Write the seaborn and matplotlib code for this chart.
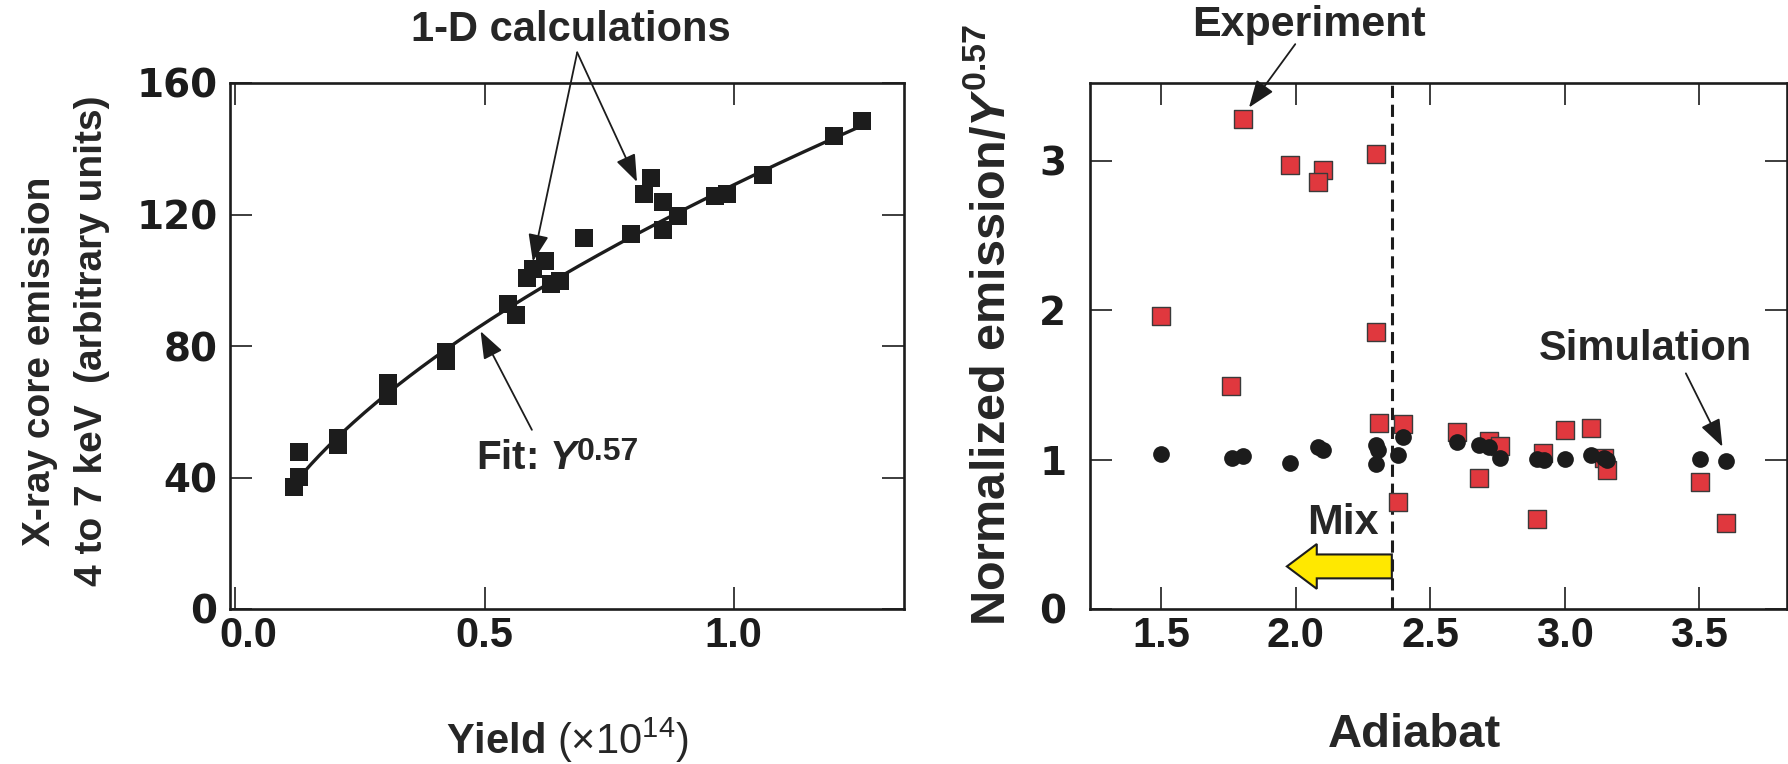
import numpy as np
import pandas as pd
import matplotlib
matplotlib.use("Agg")
import matplotlib.pyplot as plt
from matplotlib.patches import FancyArrow
from matplotlib.transforms import ScaledTranslation
import seaborn as sns

# ---------------- data ----------------
yield_1d = [0.117, 0.128, 0.128, 0.206, 0.206, 0.306, 0.306, 0.422, 0.422,
            0.548, 0.563, 0.585, 0.597, 0.622, 0.634, 0.652, 0.699, 0.793,
            0.821, 0.835, 0.859, 0.859, 0.888, 0.962, 0.986, 1.058, 1.202, 1.258]
emission_1d = [37.1, 40.3, 47.8, 50.0, 52.0, 68.6, 64.7, 78.1, 75.3,
               92.8, 89.4, 100.6, 103.4, 105.9, 98.9, 99.7, 113.0, 114.1,
               126.3, 131.0, 123.7, 115.2, 119.4, 125.6, 126.3, 132.1, 143.9, 148.4]
fit_coef = 129.0
fit_exp = 0.57
fit_range = (0.135, 1.26)

exp_adiabat = [1.804, 1.978, 2.100, 2.083, 2.300, 1.500, 2.300, 1.759, 2.311,
               2.400, 2.598, 2.719, 2.759, 2.920, 3.000, 3.096, 3.144, 3.158,
               2.681, 2.380, 2.895, 3.502, 3.598]
exp_norm = [3.277, 2.970, 2.936, 2.858, 3.042, 1.962, 1.854, 1.491, 1.245,
            1.238, 1.184, 1.123, 1.091, 1.042, 1.201, 1.213, 1.012, 0.931,
            0.877, 0.718, 0.600, 0.848, 0.575]
sim_adiabat = [1.500, 1.762, 1.802, 1.978, 2.083, 2.103, 2.297, 2.307, 2.300,
               2.380, 2.400, 2.601, 2.681, 2.719, 2.759, 2.895, 2.922, 3.000,
               3.098, 3.144, 3.158, 3.502, 3.598]
sim_norm = [1.037, 1.012, 1.025, 0.975, 1.081, 1.066, 1.098, 1.066, 0.968,
            1.029, 1.152, 1.115, 1.098, 1.086, 1.012, 1.005, 0.995, 1.007,
            1.029, 1.012, 0.995, 1.007, 0.988]
mix_adiabat = 2.357

left_xticks = [0.0, 0.5, 1.0]
left_yticks = [0, 40, 80, 120, 160]
right_xticks = [1.5, 2.0, 2.5, 3.0, 3.5]
right_yticks = [0, 1, 2, 3]

# ---------------- style ----------------
sns.set_style("ticks")
plt.rcParams["font.family"] = ["Liberation Sans", "DejaVu Sans"]
plt.rcParams["font.weight"] = "bold"
plt.rcParams["mathtext.fontset"] = "custom"
plt.rcParams["mathtext.rm"] = "Liberation Sans:weight=normal"
plt.rcParams["mathtext.bf"] = "Liberation Sans:bold"
plt.rcParams["mathtext.it"] = "Liberation Sans:italic:bold"
plt.rcParams["mathtext.sf"] = "Liberation Sans:weight=normal"

W, H = 1788, 764
fig = plt.figure(figsize=(W / 100, H / 100), dpi=100)
ax1 = fig.add_axes([230 / W, (H - 609) / H, 674 / W, 526 / H])
ax2 = fig.add_axes([1090 / W, (H - 609) / H, 697 / W, 526 / H])

INK = "#1c1c1c"
RED = "#e0383e"
TICK_X = 30
TICK_Y = 28

def style_axes(ax, ypad):
    for s in ax.spines.values():
        s.set_linewidth(1.9)
        s.set_color(INK)
        s.set_visible(True)
    ax.tick_params(direction="in", length=16, width=1.2, top=True, right=True,
                   colors=INK)
    ax.tick_params(axis="x", pad=5)
    ax.tick_params(axis="y", pad=ypad)

# ---------------- left panel ----------------
df1 = pd.DataFrame({"yield": yield_1d, "emission": emission_1d})
fx = np.linspace(fit_range[0], fit_range[1], 200)
dfit = pd.DataFrame({"x": fx, "y": fit_coef * fx ** fit_exp})
sns.lineplot(data=dfit, x="x", y="y", ax=ax1, color=INK, linewidth=2.4, zorder=2)
sns.scatterplot(data=df1, x="yield", y="emission", ax=ax1, marker="s", s=170,
                color=INK, linewidth=0, zorder=3)
ax1.set_xlim(-0.011, 1.342)
ax1.set_ylim(0, 160)
ax1.set_xticks(left_xticks)
ax1.set_xticklabels([f"{v:.1f}" for v in left_xticks], fontsize=TICK_X,
                    fontweight="bold")
ax1.set_yticks(left_yticks)
ax1.set_yticklabels([str(v) for v in left_yticks], family="DejaVu Sans",
                    fontsize=TICK_Y, fontweight="bold")
style_axes(ax1, 9)
# nudge the "0.0" label right so it clears the "0" of the y axis
first = ax1.xaxis.get_major_ticks()[0].label1
first.set_transform(first.get_transform()
                    + ScaledTranslation(9 / 72, 0, fig.dpi_scale_trans))

ax1.set_xlabel(r"Yield $\mathrm{(\times10^{14})}$", fontsize=30, fontweight="bold")
ax1.xaxis.label.set_va("baseline")
ax1.xaxis.set_label_coords(0.5, -0.276)
ax1.set_ylabel("")
ax1.text(-0.282, 0.47, "X-ray core emission", transform=ax1.transAxes,
         rotation=90, ha="center", va="center", fontsize=28, fontweight="bold")
ax1.text(-0.205, 0.51, "4 to 7 keV  (arbitrary units)", transform=ax1.transAxes,
         rotation=90, ha="center", va="center", fontsize=28, fontweight="bold")

arrow_kw = dict(arrowstyle="-|>,head_length=0.8,head_width=0.3", color=INK,
                lw=1.3, mutation_scale=21, shrinkA=0, shrinkB=0)
ax1.text(0.673, 176, "1-D calculations", ha="center", va="center",
         fontsize=30, fontweight="bold", clip_on=False)
for tip in [(0.597, 105.7), (0.806, 129.9)]:
    ax1.annotate("", xy=tip, xytext=(0.686, 169.3), arrowprops=arrow_kw,
                 annotation_clip=False)
fit_txt = ax1.text(0.482, 42.5, r"Fit: $\mathit{Y}$", ha="left", va="baseline",
                   fontsize=29, fontweight="bold")
ax1.annotate("0.57", xy=(1.0, 0.0), xycoords=fit_txt, xytext=(-3, 12.5),
             textcoords="offset points", ha="left", va="baseline",
             fontsize=23, fontweight="bold")
ax1.annotate("", xy=(0.492, 84.5), xytext=(0.595, 54.5), arrowprops=arrow_kw)

# ---------------- right panel ----------------
dfe = pd.DataFrame({"adiabat": exp_adiabat, "norm": exp_norm})
dfs = pd.DataFrame({"adiabat": sim_adiabat, "norm": sim_norm})
ax2.axvline(mix_adiabat, color=INK, lw=2.2, dashes=(4, 2.2), zorder=4)
ax2.add_patch(FancyArrow(mix_adiabat, 0.285, -0.39, 0, width=0.16,
                         head_width=0.30, head_length=0.111,
                         length_includes_head=True, facecolor="#ffe800",
                         edgecolor=INK, lw=1.5, zorder=3))
sns.scatterplot(data=dfe, x="adiabat", y="norm", ax=ax2, marker="s", s=165,
                color=RED, edgecolor="#3a3a3a", linewidth=1.0, zorder=5)
sns.scatterplot(data=dfs, x="adiabat", y="norm", ax=ax2, marker="o", s=145,
                color=INK, linewidth=0, zorder=6)
ax2.set_xlim(1.235, 3.826)
ax2.set_ylim(0.02, 3.52)
ax2.set_xticks(right_xticks)
ax2.set_xticklabels([f"{v:.1f}" for v in right_xticks], fontsize=TICK_X,
                    fontweight="bold")
ax2.set_yticks(right_yticks)
ax2.set_yticklabels([str(v) for v in right_yticks], family="DejaVu Sans",
                    fontsize=TICK_Y, fontweight="bold")
style_axes(ax2, 17)
ax2.set_xlabel("Adiabat", fontsize=34, fontweight="bold")
ax2.xaxis.label.set_va("baseline")
ax2.xaxis.set_label_coords(0.4656, -0.262)
ax2.set_ylabel(r"Normalized emission/$\mathit{Y}^{\mathbf{0.57}}$", fontsize=35,
               fontweight="bold")
ax2.yaxis.label.set_va("center")
ax2.yaxis.set_label_coords(-0.142, 0.54)

ax2.text(2.05, 3.906, "Experiment", ha="center", va="center", fontsize=31,
         fontweight="bold", clip_on=False)
ax2.annotate("", xy=(1.826, 3.356), xytext=(1.998, 3.78), arrowprops=arrow_kw,
             annotation_clip=False)
ax2.text(3.30, 1.74, "Simulation", ha="center", va="center", fontsize=30,
         fontweight="bold")
ax2.annotate("", xy=(3.586, 1.086), xytext=(3.45, 1.577), arrowprops=arrow_kw)
ax2.text(2.174, 0.575, "Mix", ha="center", va="center", fontsize=31,
         fontweight="bold")

fig.savefig("out.png", dpi=100)
